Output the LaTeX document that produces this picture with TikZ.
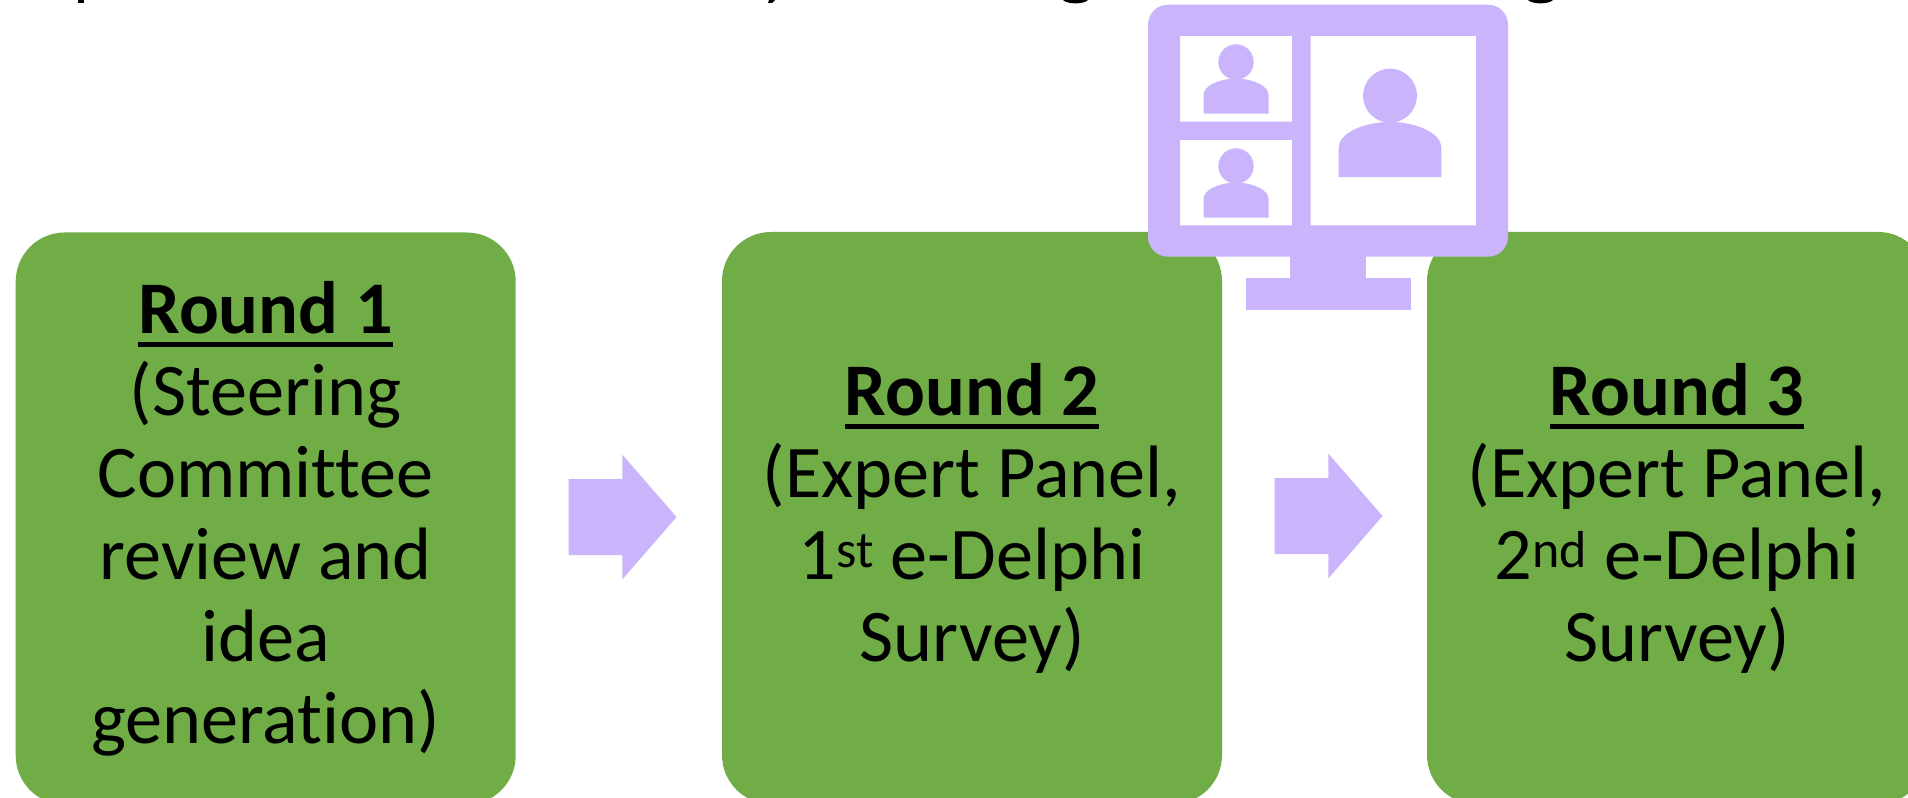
\documentclass[tikz,border=0pt]{standalone}
\usepackage{fontspec}
\setmainfont[Ligatures=NoCommon]{Carlito}
\usetikzlibrary{shapes.arrows}
\definecolor{boxgreen}{HTML}{70AD47}
\definecolor{lilac}{HTML}{CAB5FD}
\newlength{\rndw}
\newcommand{\rndhead}[1]{\settowidth{\rndw}{\textbf{#1}}\textbf{#1}\llap{\rule[-10.7pt]{\rndw}{3.9pt}}}
\tikzset{
  x=.75pt,y=-.75pt,
  roundbox/.style={fill=boxgreen,rounded corners=36.75pt,minimum width=375pt,minimum height=429pt,inner sep=0pt,align=center,font=\fontsize{55.7}{61.5}\selectfont,text=black},
  blockarrow/.style={single arrow,fill=lilac,inner sep=0pt,minimum height=81pt,single arrow head extend=18.2pt,single arrow tip angle=98,single arrow head indent=0pt},
  lilacfill/.style={fill=lilac,draw=none},
  cuttext/.style={fill=black,draw=none}
}
\newcommand{\person}[4]{% head x, head y, radius, scale
  \fill[lilacfill] (#1,#2) circle[radius=#3*.75pt];
  \fill[lilacfill] ({#1-#4*32.5},{#2+#4*51.6}) -- ({#1-#4*32.5},{#2+#4*33})
     .. controls ({#1-#4*32.5},{#2+#4*24}) and ({#1-#4*18},{#2+#4*17}) .. ({#1},{#2+#4*16.5})
     .. controls ({#1+#4*18},{#2+#4*17}) and ({#1+#4*32.5},{#2+#4*24}) .. ({#1+#4*32.5},{#2+#4*33})
     -- ({#1+#4*32.5},{#2+#4*51.6}) -- cycle;
}
\newcommand{\arrowshape}[1]{\rule{0pt}{56.6pt}}
\begin{document}
\begin{tikzpicture}
\useasboundingbox (0,0) rectangle (1908,798);
\clip (0,0) rectangle (1908,798);
\fill[white] (0,0) rectangle (1908,798);
% clipped descenders of the cut-off line at the very top
\fill[cuttext] (78,0) rectangle (84,3);
\fill[cuttext] (769,0) -- (775,0) -- (772,3) -- (768,3) -- cycle;
\fill[cuttext] (1063,0) .. controls (1067,4.5) and (1084,4.5) .. (1088,0) -- cycle;
\fill[cuttext] (1528,0) .. controls (1532,4.5) and (1549,4.5) .. (1553,0) -- cycle;
\node[roundbox] (r1) at (265.7,518.5) {\rndhead{Round 1}\\(Steering\\Committee\\review and\\idea\\generation)};
\node[roundbox] (r2) at (972,518) {\rndhead{Round 2}\\(Expert Panel,\\1\textsuperscript{st} e-Delphi\\Survey)};
\node[roundbox] (r3) at (1677,518) {\rndhead{Round 3}\\(Expert Panel,\\2\textsuperscript{nd} e-Delphi\\Survey)};
\node[blockarrow] (a1) at (606,517) {\arrowshape{}};
\node[blockarrow] (a2) at (1312,516) {\arrowshape{}};
% monitor
\fill[lilacfill,even odd rule]
  [rounded corners=15pt] (1148,4.7) rectangle (1508,256.7)
  [sharp corners] (1180,36) rectangle (1292,121.7)
  (1180,140) rectangle (1292,225.3)
  (1310.7,36) rectangle (1476,225.3);
\fill[lilacfill] (1290,250) rectangle (1366,285);
\fill[lilacfill] (1245.7,278) rectangle (1410.7,310);
\person{1236}{62}{17.7}{1}
\person{1236}{166}{17.7}{1}
\person{1390}{95.7}{27}{1.58}
\end{tikzpicture}
\end{document}
